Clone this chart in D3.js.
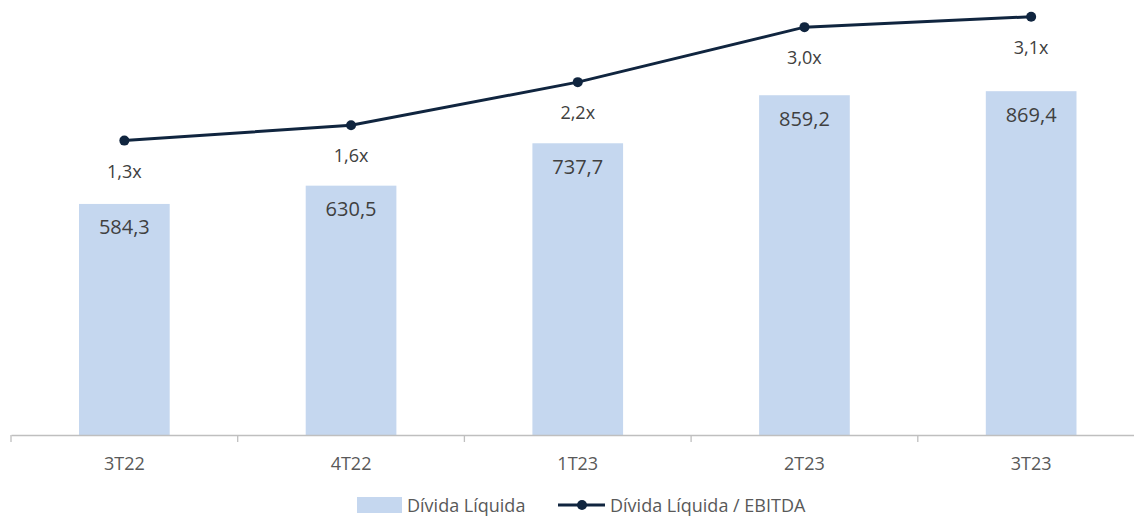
<!DOCTYPE html>
<html>
<head>
<meta charset="utf-8">
<script src="https://cdn.jsdelivr.net/npm/d3@7"></script>
<style>
  body { margin: 0; background: #fff; }
  svg { display: block; font-family: "Open Sans", sans-serif; }
</style>
</head>
<body>
<svg id="svg1" width="1134" height="517"></svg>
<script>
// chart data
var quarters = ['3T22', '4T22', '1T23', '2T23', '3T23'];
var dividaLiquida = [584.3, 630.5, 737.7, 859.2, 869.4];
var alavancagem = [1.33, 1.55, 2.17, 2.96, 3.11];   // Dívida Líquida / EBITDA
var seriesNames = ['Dívida Líquida', 'Dívida Líquida / EBITDA'];

var svg = d3.select('#svg1');

var baseY = 435;
var fmt = function(v) { return v.toFixed(1).replace('.', ','); };

// x band: axis runs from 11 past the right edge
var x = d3.scaleBand()
    .domain(quarters)
    .range([11, 11 + 226.7 * quarters.length])
    .paddingInner(0.6)
    .paddingOuter(0.3);

var yBar = d3.scaleLinear().domain([0, 1100]).range([baseY, 0]);
var yLine = d3.scaleLinear().domain([-2.9, 3.35]).range([baseY, 0]);

// bars
svg.append('g').selectAll('rect')
    .data(dividaLiquida)
    .enter()
    .append('rect')
    .attr('x', function(d, i) { return x(quarters[i]); })
    .attr('y', function(d) { return yBar(d); })
    .attr('width', x.bandwidth())
    .attr('height', function(d) { return baseY - yBar(d); })
    .attr('fill', '#c5d7ef');

// bar labels
svg.append('g').selectAll('text')
    .data(dividaLiquida)
    .enter()
    .append('text')
    .attr('x', function(d, i) { return x(quarters[i]) + x.bandwidth() / 2; })
    .attr('y', function(d) { return yBar(d) + 23; })
    .attr('text-anchor', 'middle')
    .attr('dominant-baseline', 'central')
    .attr('font-size', 20)
    .attr('fill', '#404040')
    .text(fmt);

// x axis
var xAxis = d3.axisBottom(x).tickSize(0).tickPadding(0).tickFormat(function(d) { return d; });
var gx = svg.append('g').attr('transform', 'translate(0,' + baseY + ')').call(xAxis);
gx.select('.domain').attr('stroke', '#bfbfbf').attr('stroke-width', 1.3);
gx.selectAll('.tick text')
    .attr('y', 28)
    .attr('dy', 0)
    .attr('dominant-baseline', 'central')
    .attr('font-size', 18)
    .attr('font-family', '"Open Sans", sans-serif')
    .attr('fill', '#595959');
// tick marks at category boundaries
svg.append('g').selectAll('line')
    .data(d3.range(quarters.length + 1))
    .enter()
    .append('line')
    .attr('x1', function(i) { return 11 + i * x.step(); })
    .attr('x2', function(i) { return 11 + i * x.step(); })
    .attr('y1', baseY)
    .attr('y2', baseY + 7)
    .attr('stroke', '#bfbfbf')
    .attr('stroke-width', 1.3);

// line series
var cx = function(d, i) { return x(quarters[i]) + x.bandwidth() / 2; };
var line = d3.line()
    .x(cx)
    .y(function(d) { return yLine(d); });

svg.append('path')
    .datum(alavancagem)
    .attr('d', line)
    .attr('fill', 'none')
    .attr('stroke', '#10253f')
    .attr('stroke-width', 3);

svg.append('g').selectAll('circle')
    .data(alavancagem)
    .enter()
    .append('circle')
    .attr('cx', cx)
    .attr('cy', function(d) { return yLine(d); })
    .attr('r', 5)
    .attr('fill', '#10253f');

svg.append('g').selectAll('text')
    .data(alavancagem)
    .enter()
    .append('text')
    .attr('x', cx)
    .attr('y', function(d) { return yLine(d) + 30; })
    .attr('text-anchor', 'middle')
    .attr('dominant-baseline', 'central')
    .attr('font-size', 18)
    .attr('fill', '#404040')
    .text(function(d) { return fmt(d) + 'x'; });

// legend
var legY = 505;
var lg = svg.append('g');
lg.append('rect').attr('x', 357).attr('y', legY - 8).attr('width', 45).attr('height', 16).attr('fill', '#c5d7ef');
lg.append('text').attr('x', 407).attr('y', legY).attr('dominant-baseline', 'central').attr('font-size', 18).attr('fill', '#595959').text(seriesNames[0]);
lg.append('line').attr('x1', 558).attr('x2', 605).attr('y1', legY).attr('y2', legY)
    .attr('stroke', '#10253f').attr('stroke-width', 3);
lg.append('circle').attr('cx', 582).attr('cy', legY).attr('r', 5).attr('fill', '#10253f');
lg.append('text').attr('x', 610).attr('y', legY).attr('dominant-baseline', 'central').attr('font-size', 18).attr('fill', '#595959').text(seriesNames[1]);
</script>
</body>
</html>
